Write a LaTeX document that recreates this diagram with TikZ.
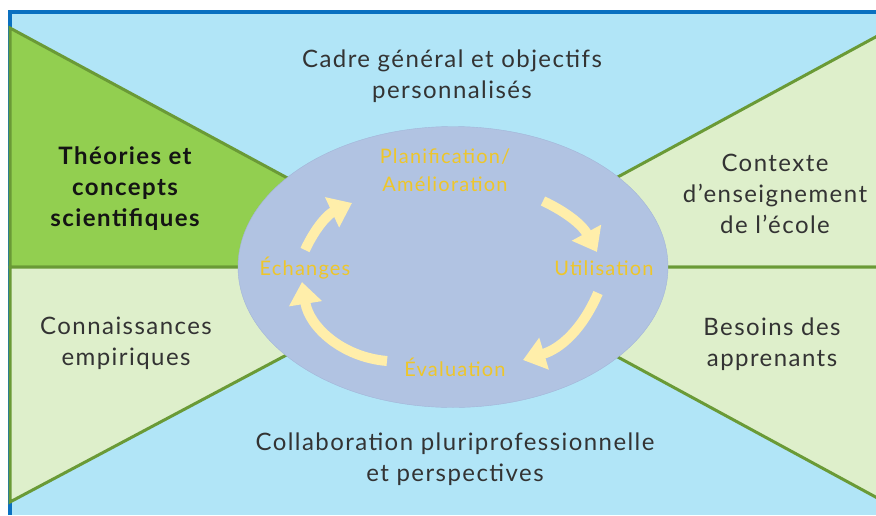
\documentclass[tikz,border=0pt]{standalone}
\usepackage{fontspec}
\setmainfont{Lato}[LetterSpace=6]
\usepackage{xcolor}
\usepackage{tikz}
\usetikzlibrary{shapes.geometric, arrows.meta, positioning}

\definecolor{skyblue}{HTML}{B1E5F7}
\definecolor{frameblue}{HTML}{0A70C0}
\definecolor{leafgreen}{HTML}{92CF50}
\definecolor{palegreen}{HTML}{DEEFCB}
\definecolor{olivegreen}{HTML}{6A9A36}
\definecolor{cyclefill}{HTML}{B1C3E2}
\definecolor{cycleedge}{HTML}{A2B5D8}
\definecolor{stagegold}{HTML}{EEC62A}
\definecolor{arrowcream}{HTML}{FFEEAA}
\definecolor{inktext}{HTML}{333333}

\begin{document}
\begin{tikzpicture}[x=1pt, y=1pt,
    sector/.style={draw=olivegreen, line width=3pt, line join=miter},
    factor/.style={align=center, text=inktext, font=\fontsize{24}{31}\selectfont},
    stage/.style={align=center, text=stagegold, font=\fontsize{20}{28}\selectfont},
    cycle/.style={ellipse, draw=cycleedge, fill=cyclefill, minimum width=430pt, minimum height=281pt, inner sep=0pt},
    cyclearrow/.style={draw=arrowcream, line width=10pt, -{Triangle[length=22pt, width=32pt]}}
]
    \useasboundingbox (0,0) rectangle (876,-515);
    \fill[white] (0,0) rectangle (876,-515);

    % Frame
    \fill[skyblue] (10,-12) rectangle (876,-515);
    \draw[frameblue, line width=4pt] (10,-515) -- (10,-12) -- (876,-12);

    % Apex of the four sectors
    \coordinate (apex) at (452,-267);

    % Sectors
    \draw[sector, fill=leafgreen] (10,-28) -- (10,-267) -- (apex) -- cycle;
    \draw[sector, fill=palegreen] (10,-267) -- (10,-502) -- (apex) -- cycle;
    \draw[sector, fill=palegreen] (894,-27) -- (894,-267) -- (apex) -- cycle;
    \draw[sector, fill=palegreen] (894,-267) -- (894,-507) -- (apex) -- cycle;

    % Cycle Ellipse
    \node[cycle] (cycle) at (453,-267) {};

    % Outer factors
    \node[factor] (general) at (452,-76) {Cadre général et objectifs\\personnalisés};
    \node[factor, text={black!92}] (theories) at (125,-189) {\bfseries Théories et\\\bfseries concepts\\\bfseries scientifiques};
    \node[factor] (contexte) at (775,-194) {Contexte\\d’enseignement\\de l’école};
    \node[factor] (empirique) at (126,-343) {Connaissances\\empiriques};
    \node[factor] (besoins) at (772,-344) {Besoins des\\apprenants};
    \node[factor] (collab) at (455,-459) {Collaboration pluriprofessionnelle\\et perspectives};

    % Cycle stages
    \node[stage] (planif) at (445,-170) {Planification/\\Amélioration};
    \node[stage] (utilisation) at (604,-268) {Utilisation};
    \node[stage] (evaluation) at (455,-367) {Évaluation};
    \node[stage] (echanges) at (305,-268) {Échanges};

    % Arrow ends
    \coordinate (planifout) at (543,-201);
    \coordinate (utilin) at (597,-252);
    \coordinate (utilout) at (598,-293);
    \coordinate (evalin) at (523,-360);
    \coordinate (evalout) at (387,-361);
    \coordinate (echin) at (302,-282);
    \coordinate (echout) at (305,-250);
    \coordinate (planifin) at (352,-203);

    % Cycle arrows
    \draw[cyclearrow] (planifout) to[bend left=18] (utilin);
    \draw[cyclearrow] (utilout) to[bend left=25] (evalin);
    \draw[cyclearrow] (evalout) to[bend left=38] (echin);
    \draw[cyclearrow] (echout) to[bend left=20] (planifin);
\end{tikzpicture}
\end{document}
